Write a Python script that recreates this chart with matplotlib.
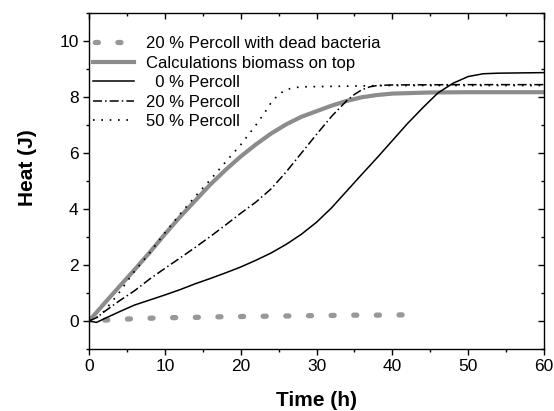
import matplotlib
matplotlib.use("Agg")
import matplotlib.pyplot as plt
from matplotlib import lines as mlines

# --------------------------------------------------
# data
# --------------------------------------------------
t_dead = [0, 2, 5, 8, 11, 14, 17, 20, 23, 26, 29, 32, 35, 38, 41.5]
heat_dead = [0, 0.03, 0.07, 0.1, 0.12, 0.13, 0.15, 0.16, 0.17, 0.18, 0.19, 0.2, 0.21, 0.21, 0.22]

t_calc = [0, 2, 4, 6, 8, 10, 12, 14, 16, 18, 20, 22, 24, 26, 28, 30, 32, 34, 36, 38,
          40, 45, 50, 55, 60]
heat_calc = [0, 0.62, 1.23, 1.83, 2.45, 3.1, 3.72, 4.3, 4.88, 5.4, 5.88, 6.31, 6.7,
             7.03, 7.3, 7.5, 7.7, 7.87, 8.0, 8.08, 8.13, 8.17, 8.18, 8.18, 8.18]

t_0 = [0, 1, 2, 4, 6, 8, 10, 12, 14, 16, 18, 20, 22, 24, 26, 28, 30, 32, 34, 36, 38,
       40, 42, 44, 46, 48, 50, 52, 54, 60]
heat_0 = [0, -0.05, 0.08, 0.33, 0.57, 0.75, 0.93, 1.12, 1.33, 1.52, 1.72, 1.93, 2.17,
          2.43, 2.74, 3.1, 3.53, 4.05, 4.65, 5.25, 5.84, 6.45, 7.06, 7.62, 8.15, 8.5,
          8.74, 8.84, 8.86, 8.88]

t_20 = [0, 1, 2, 4, 6, 8, 10, 12, 14, 16, 18, 20, 22, 24, 26, 28, 30, 32, 34, 35, 36,
        37, 38, 40, 50, 60]
heat_20 = [0, 0.12, 0.33, 0.72, 1.08, 1.5, 1.88, 2.25, 2.63, 3.02, 3.43, 3.85, 4.25,
           4.72, 5.33, 6.0, 6.67, 7.32, 7.88, 8.1, 8.27, 8.37, 8.42, 8.44, 8.45, 8.45]

t_50 = [0, 1, 2, 3, 4, 6, 8, 10, 12, 14, 16, 18, 20, 22, 23, 24, 25, 26, 27, 28, 30,
        35, 40, 50, 60]
heat_50 = [0, 0.12, 0.35, 0.68, 1.02, 1.78, 2.43, 3.15, 3.82, 4.45, 5.05, 5.68, 6.3,
           7.0, 7.38, 7.8, 8.1, 8.27, 8.34, 8.37, 8.38, 8.4, 8.42, 8.42, 8.42]

labels = ["20 % Percoll with dead bacteria", "Calculations biomass on top",
          "  0 % Percoll", "20 % Percoll", "50 % Percoll"]

# --------------------------------------------------
# style
# --------------------------------------------------
plt.rcParams.update({
    "font.family": ["Liberation Sans", "DejaVu Sans"],
    "font.size": 12,
    "lines.scale_dashes": False,
    "axes.linewidth": 1.0,
})

GRAY = "#8c8c8c"

fig = plt.figure(figsize=(5.54, 4.11), dpi=100)
ax = fig.add_axes([0.1606, 0.1509, 0.8214, 0.8167])

ax.plot(t_dead, heat_dead, color="#989898", linewidth=3.8,
        linestyle=(4.9, (2.2, 14.1)), dash_capstyle="round", label=labels[0])
ax.plot(t_calc, heat_calc, color=GRAY, linewidth=3.0, label=labels[1])
ax.plot(t_0, heat_0, color="black", linewidth=1.1, label=labels[2])
ax.plot(t_20, heat_20, color="black", linewidth=1.1,
        linestyle=(0, (6.5, 2.2, 1.1, 2.2)), label=labels[3])
ax.plot(t_50, heat_50, color="black", linewidth=1.25,
        linestyle=(0, (1.2, 4.8)), label=labels[4])

# --------------------------------------------------
# axes, ticks (out on bottom/left, in on top/right)
# --------------------------------------------------
ax.set_xlim(0, 60)
ax.set_ylim(-1, 11)
ax.set_xticks(range(0, 61, 10))
ax.set_xticks(range(5, 60, 10), minor=True)
ax.set_yticks(range(0, 11, 2))
ax.set_yticks(range(-1, 12, 2), minor=True)

ax.tick_params(which="both", top=True, right=True, direction="out",
               width=1.0, labelsize=12.5)
ax.tick_params(which="major", length=4.5, pad=3)
ax.tick_params(which="minor", length=2.5)
for tick in ax.xaxis.get_major_ticks() + ax.xaxis.get_minor_ticks():
    tick.tick2line.set_marker(mlines.TICKDOWN)
for tick in ax.yaxis.get_major_ticks() + ax.yaxis.get_minor_ticks():
    tick.tick2line.set_marker(mlines.TICKLEFT)

ax.set_xlabel("Time (h)", fontsize=15, fontweight="bold")
ax.set_ylabel("Heat (J)", fontsize=15, fontweight="bold")
ax.xaxis.set_label_coords(0.5, -0.125)
ax.yaxis.set_label_coords(-0.114, 0.54)

leg = ax.legend(loc="upper left", bbox_to_anchor=(0.009, 0.932), frameon=False,
                fontsize=12, handlelength=2.45, handletextpad=0.7, labelspacing=0.27,
                borderpad=0.0, borderaxespad=0.0)
# dots of the dead-bacteria handle start right at the handle's left end
leg.get_lines()[0].set_linestyle((15.0, (2.2, 14.1)))

fig.savefig("out.png", dpi=100)
